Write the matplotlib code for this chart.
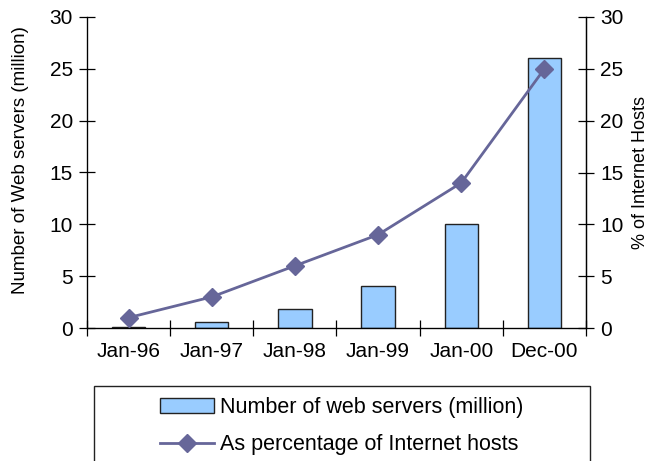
import matplotlib
matplotlib.use("Agg")
import matplotlib.pyplot as plt
from matplotlib.patches import Rectangle
import numpy as np

plt.rcParams['font.family'] = ['Liberation Sans', 'DejaVu Sans']

categories = ["Jan-96", "Jan-97", "Jan-98", "Jan-99", "Jan-00", "Dec-00"]
servers_million = [0.12, 0.6, 1.8, 4.05, 10.0, 26.0]
pct_hosts = [1.0, 3.0, 6.0, 9.0, 14.0, 25.0]
yticks = [0, 5, 10, 15, 20, 25, 30]

bar_color = "#99CCFF"
line_color = "#666699"

fig = plt.figure(figsize=(6.5, 4.61), dpi=100)
ax = fig.add_axes([87/650, 1-328/461, (586-87)/650, (328-17)/461])
x = np.arange(len(categories))
bars = ax.bar(x, servers_million, width=0.4, color=bar_color, edgecolor="#222222",
              linewidth=1.0, label="Number of web servers (million)", zorder=2)
ax.set_xlim(-0.5, len(categories)-0.5)
ax.set_ylim(0, 30)
ax.set_yticks(yticks)
ax.set_xticks(np.arange(len(categories)+1)-0.5)
ax.set_xticklabels([])
ax.set_xticks(x, minor=True)
ax.set_xticklabels(categories, minor=True)
ax.tick_params(axis='x', which='minor', length=0, pad=10, labelsize=15)
ax.tick_params(axis='x', which='major', direction='inout', length=12, width=0.9)
ax.tick_params(axis='y', direction='inout', length=12, width=0.9, labelsize=15, pad=4)
ax.spines['top'].set_visible(False)
for s in ['left', 'right', 'bottom']:
    ax.spines[s].set_linewidth(0.9)
ax.set_ylabel("Number of Web servers (million)", fontsize=13.5)
ax.yaxis.set_label_coords(-0.116, 0.54)

ax2 = ax.twinx()
ln, = ax2.plot(x, pct_hosts, color=line_color, linewidth=2, marker='D', markersize=9,
               label="As percentage of Internet hosts", zorder=3)
ax2.set_ylim(0, 30)
ax2.set_yticks(yticks)
ax2.tick_params(axis='y', direction='inout', length=12, width=0.9, labelsize=15, pad=4)
ax2.spines['top'].set_visible(False)
ax2.spines['right'].set_linewidth(0.9)
ax2.set_ylabel("% of Internet Hosts", fontsize=13, labelpad=6)

# legend box
rect = Rectangle((94/650, -0.05), (590-94)/650, (1-386/461)+0.05, transform=fig.transFigure,
                 facecolor='white', edgecolor='#222222', linewidth=1.0, clip_on=False)
fig.patches.append(rect)
leg = fig.legend([bars, ln], ["Number of web servers (million)", "As percentage of Internet hosts"],
                 loc='upper center', bbox_to_anchor=(342/650, 1-382/461), frameon=False,
                 fontsize=15.5, handlelength=2.5, handletextpad=0.3, labelspacing=0.75,
                 borderpad=0.2)

fig.savefig("out.png", dpi=100)
